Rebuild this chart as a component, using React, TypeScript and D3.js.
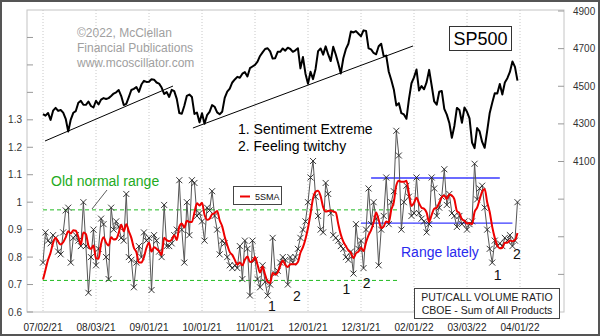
import React from 'react';
import * as d3 from 'd3';

// ---------- DATA ----------
const xTickLabels = ["07/02/21", "08/03/21", "09/01/21", "10/01/21", "11/01/21", "12/01/21", "12/31/21", "02/01/22", "03/03/22", "04/01/22"];
const xTickIndex = [0, 21, 42, 63, 84, 105, 126, 147, 168, 189];

const ratioTicks = [0.6, 0.7, 0.8, 0.9, 1.0, 1.1, 1.2, 1.3, 1.4, 1.5, 1.6];
const ratioTickLabels = ["0.6", "0.7", "0.8", "0.9", "1", "1.1", "1.2", "1.3", "", "", ""];
const spTicks = [3500, 3700, 3900, 4100, 4300, 4500, 4700, 4900];
const spTickLabels = ["", "", "", "4100", "4300", "4500", "4700", "4900"];

// CBOE total put/call ratio, trading days 07/02/21 .. 03/31/22
const ratioLeadIn = [0.71, 0.68, 0.72, 0.70];
const ratio = [
  0.78, 0.89, 0.86, 0.85, 0.88, 0.87, 0.82, 0.81, 0.89, 0.97,
  0.98, 0.78, 0.87, 0.88, 0.86, 0.84, 1.00, 0.84, 0.67, 0.80,
  0.90, 0.77, 0.83, 0.94, 0.92, 0.80, 0.72, 0.98, 0.90, 0.93,
  0.91, 0.87, 0.86, 1.03, 0.80, 0.79, 0.69, 0.78, 0.84, 0.80,
  0.89, 0.86, 0.87, 0.68, 0.88, 0.86, 0.82, 0.80, 0.99, 0.84,
  0.84, 0.85, 0.88, 0.90, 1.08, 0.90, 0.78, 1.00, 0.88, 1.08,
  1.07, 0.95, 0.96, 0.93, 0.86, 0.98, 0.97, 1.04, 0.95, 0.90,
  0.81, 0.86, 0.85, 0.80, 0.77, 0.76, 0.77, 0.76, 0.84, 0.72,
  0.86, 0.83, 0.66, 0.86, 0.79, 0.72, 0.69, 0.77, 0.71, 0.66,
  0.70, 0.87, 0.74, 0.75, 0.78, 0.80, 0.79, 0.70, 0.80, 0.78,
  0.80, 0.83, 0.87, 0.90, 0.93, 1.00, 1.09, 1.15, 1.02, 0.95,
  0.90, 0.89, 1.07, 1.03, 0.96, 0.88, 0.87, 0.86, 0.84, 0.83,
  0.80, 0.79, 0.82, 0.74, 0.92, 0.83, 0.86, 0.76, 0.90, 1.05,
  0.92, 1.00, 0.94, 0.77, 0.90, 0.95, 1.09, 0.92, 1.00, 1.04,
  1.26, 1.17, 0.90, 1.00, 1.06, 1.02, 0.95, 0.96, 1.09, 0.96,
  0.94, 0.93, 0.89, 0.92, 1.09, 1.05, 0.95, 0.98, 1.02, 1.12,
  0.99, 1.03, 0.96, 0.95, 0.91, 0.95, 0.92, 0.93, 0.90, 0.92,
  0.93, 1.14, 1.01, 1.05, 1.06, 0.98, 0.90, 0.83, 0.78, 0.86,
  0.84, 0.85, 0.84, 0.87, 0.86, 0.88, 0.84, 0.86, 1.00,
];

// S&P 500 daily closes, same trading days
const sp500 = [
  4352, 4344, 4358, 4321, 4370, 4385, 4369, 4374, 4360, 4327,
  4259, 4323, 4359, 4368, 4412, 4422, 4402, 4401, 4419, 4395,
  4387, 4423, 4403, 4429, 4437, 4432, 4437, 4448, 4461, 4468,
  4480, 4448, 4400, 4406, 4442, 4480, 4486, 4496, 4470, 4509,
  4529, 4523,
  4524, 4537, 4535, 4520, 4514, 4493, 4459, 4469, 4443, 4481,
  4474, 4433, 4358, 4354, 4396, 4449, 4456, 4443, 4353, 4360,
  4308,
  4357, 4301, 4346, 4364, 4400, 4391, 4361, 4351, 4364, 4438,
  4471, 4487, 4520, 4536, 4550, 4545, 4567, 4575, 4552, 4596,
  4605,
  4614, 4631, 4661, 4680, 4698, 4702, 4685, 4647, 4649, 4683,
  4683, 4701, 4689, 4705, 4698, 4683, 4691, 4702, 4595, 4655,
  4567,
  4513, 4577, 4538, 4592, 4687, 4701, 4668, 4712, 4669, 4634,
  4710, 4669, 4621, 4568, 4649, 4697, 4726, 4791, 4786, 4793,
  4779, 4766,
  4797, 4794, 4701, 4696, 4677, 4670, 4713, 4726, 4659, 4663,
  4577, 4533, 4483, 4398, 4410, 4357, 4350, 4327, 4432, 4516,
  4547, 4589, 4477, 4501, 4484, 4522, 4587, 4504, 4419, 4402,
  4471, 4475, 4380, 4349, 4305, 4226, 4289, 4385, 4374,
  4306, 4387, 4364, 4329, 4201, 4171, 4278, 4260, 4204, 4173,
  4263, 4358, 4412, 4463, 4461, 4512, 4456, 4520, 4543, 4576,
  4632, 4603, 4530,
];

// reference levels
const oldNormalLevels = [0.972, 0.715];
const oldNormalSpan = [0, 141];
const rangeLatelyLevels = [1.088, 0.924];
const rangeLatelySpans = [[130, 181], [126, 186]];

// SP500 trend lines [startIdx, startVal, endIdx, endVal]
const trendLines = [
  [0.8, 4209, 51.5, 4501],
  [59.4, 4278, 146.6, 4714],
];

// "1" / "2" callouts placed in data units (index, ratio at baseline)
const callouts = [
  { t: "1", i: 90.7, v: 0.604 },
  { t: "2", i: 100.6, v: 0.64 },
  { t: "1", i: 120.2, v: 0.664 },
  { t: "2", i: 128.2, v: 0.687 },
  { t: "1", i: 180.1, v: 0.718 },
  { t: "2", i: 187.8, v: 0.793 },
];

// ---------- LAYOUT ----------
const W = 600, H = 336;
const FL = 27, FR = 564, FT = 10, FB = 312;
const FONT = "'Liberation Sans', Arial, Helvetica, sans-serif";

export default function App() {
  const x = d3.scaleLinear().domain([0, 189]).range([43, 520]);
  const yR = d3.scaleLinear().domain([0.6, 1.7]).range([FB, FT]);
  const yS = d3.scaleLinear().domain([3300, 4900]).range([FB, 11]);

  const full = [...ratioLeadIn, ...ratio];
  const sma = ratio.map((_, i) => d3.mean(full.slice(i, i + 5)) as number);

  const ratioLine = d3.line<number>().x((_, i) => x(i)).y((d) => yR(d))(ratio) || '';
  const smaLine = d3.line<number>().x((_, i) => x(i)).y((d) => yR(d)).curve(d3.curveMonotoneX)(sma) || '';
  const spLine = d3.line<number>().x((_, i) => x(i)).y((d) => yS(d))(sp500) || '';

  const markers = ratio
    .map((d, i) => {
      const cx = x(i), cy = yR(d), s = 3;
      return `M${cx - s},${cy - s}L${cx + s},${cy + s}M${cx - s},${cy + s}L${cx + s},${cy - s}`;
    })
    .join('');

  return (
    <svg width={W} height={H} style={{ position: 'absolute', left: 0, top: 0, background: '#fff' }} fontFamily={FONT}>
      <rect x={0} y={0} width={W} height={H} fill="#fff" />
      {xTickIndex.map((t, k) => (
        <line key={'g' + k} x1={x(t)} x2={x(t)} y1={FT} y2={FB} stroke="#c8c8c8" strokeWidth={1} strokeDasharray="1,2" />
      ))}
      <rect x={FL} y={FT} width={FR - FL} height={FB - FT} fill="none" stroke="#c4c4c4" strokeWidth={1} />
      {ratioTicks.map((t, k) => (
        <g key={'lt' + k}>
          <line x1={FL} x2={FL + 6} y1={yR(t)} y2={yR(t)} stroke="#999" />
          {ratioTickLabels[k] && (
            <text x={22} y={yR(t) + 3.5} fontSize={10} textAnchor="end" fill="#333">{ratioTickLabels[k]}</text>
          )}
        </g>
      ))}
      {spTicks.map((t, k) => (
        <g key={'rt' + k}>
          <line x1={FR - 6} x2={FR} y1={yS(t)} y2={yS(t)} stroke="#999" />
          {spTickLabels[k] && (
            <text x={573} y={yS(t) + 3.5} fontSize={10} fill="#333">{spTickLabels[k]}</text>
          )}
        </g>
      ))}
      {xTickIndex.map((t, k) => (
        <text key={'xl' + k} x={x(t)} y={331} fontSize={10} textAnchor="middle" fill="#222">{xTickLabels[k]}</text>
      ))}

      <g fontSize={12} fill="#a0a0a0">
        <text x={77} y={37}>©2022, McClellan</text>
        <text x={77} y={52}>Financial Publications</text>
        <text x={77} y={67}>www.mcoscillator.com</text>
      </g>

      {oldNormalLevels.map((v, k) => (
        <line key={'on' + k} x1={x(oldNormalSpan[0])} x2={x(oldNormalSpan[1])} y1={yR(v)} y2={yR(v)} stroke="#22bb22" strokeWidth={1} strokeDasharray="4,3" />
      ))}
      {rangeLatelyLevels.map((v, k) => (
        <line key={'rl' + k} x1={x(rangeLatelySpans[k][0])} x2={x(rangeLatelySpans[k][1])} y1={yR(v)} y2={yR(v)} stroke="#3a3aff" strokeWidth={1.3} />
      ))}

      <path d={ratioLine} fill="none" stroke="#555" strokeWidth={1} />
      <path d={markers} fill="none" stroke="#222" strokeWidth={0.9} />
      <path d={smaLine} fill="none" stroke="#ee0000" strokeWidth={2} />

      <path d={spLine} fill="none" stroke="#000" strokeWidth={2} strokeLinejoin="round" />
      {trendLines.map((l, k) => (
        <line key={'tl' + k} x1={x(l[0])} y1={yS(l[1])} x2={x(l[2])} y2={yS(l[3])} stroke="#000" strokeWidth={1} />
      ))}

      <rect x={449.5} y={26.5} width={62} height={24} fill="#fff" stroke="#333" strokeWidth={1} />
      <text x={480.5} y={45} fontSize={18} textAnchor="middle" fill="#000">SP500</text>

      <text x={238} y={134} fontSize={14} fill="#000">1. Sentiment Extreme</text>
      <text x={238} y={151} fontSize={14} fill="#000">2. Feeling twitchy</text>
      <text x={51} y={186} fontSize={14} fill="#22aa22">Old normal range</text>
      <line x1={107} y1={190} x2={92} y2={209} stroke="#333" strokeWidth={0.8} />
      <text x={401} y={257} fontSize={14} fill="#2a2aee">Range lately</text>
      {callouts.map((c, k) => (
        <text key={'c' + k} x={x(c.i)} y={yR(c.v)} fontSize={14} textAnchor="middle" fill="#111">{c.t}</text>
      ))}

      <rect x={233.5} y={186.5} width={48} height={18} fill="#fff" stroke="#444" strokeWidth={1} />
      <line x1={240} x2={250} y1={196.5} y2={196.5} stroke="#ee0000" strokeWidth={2} />
      <text x={255} y={200} fontSize={9} fill="#111">5SMA</text>

      <rect x={414.5} y={288.5} width={145} height={30} fill="#fff" stroke="#444" strokeWidth={1} />
      <text x={487} y={301} fontSize={10.5} textAnchor="middle" fill="#222">PUT/CALL VOLUME RATIO</text>
      <text x={487} y={314} fontSize={10.5} textAnchor="middle" fill="#222">CBOE - Sum of All Products</text>

      <rect x={1} y={1} width={W - 2} height={H - 2} fill="none" stroke="#555" strokeWidth={2} />
    </svg>
  );
}
